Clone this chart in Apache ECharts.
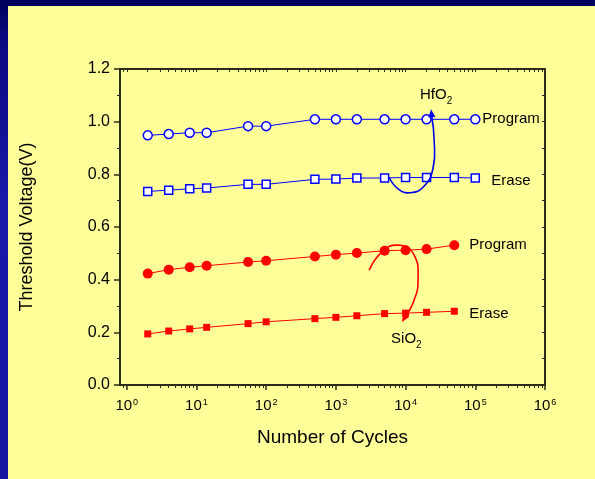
<!DOCTYPE html>
<html lang="en">
<head>
    <meta charset="utf-8">
    <title>Threshold Voltage vs Cycles</title>
    <style>
        html, body { margin: 0; padding: 0; }
        body {
            width: 595px; height: 479px; overflow: hidden; position: relative;
            background: linear-gradient(180deg, #00005c 0px, #0a0a80 40px, #1818a8 200px, #1414a0 479px);
        }
        #main { position: absolute; left: 8px; top: 6px; width: 587px; height: 473px; background: #ffff99; }
    </style>
</head>
<body>
<div id="main"></div>
<script src="https://cdn.jsdelivr.net/npm/echarts@6/dist/echarts.min.js"></script>
<script type="text/javascript">
    var FONT = 'Liberation Sans, Arial, sans-serif';

    // cycles (x) and threshold voltage (y)
    var hfCycles = [2, 4, 8, 14, 55, 100, 500, 1000, 2000, 5000, 10000, 20000, 50000, 100000];
    var hfProgram = [0.948, 0.953, 0.958, 0.958, 0.983, 0.983, 1.009, 1.009, 1.009, 1.009, 1.009, 1.009, 1.009, 1.009];
    var hfErase = [0.735, 0.740, 0.745, 0.748, 0.762, 0.762, 0.781, 0.782, 0.786, 0.786, 0.788, 0.788, 0.788, 0.786];

    var sioCycles = [2, 4, 8, 14, 55, 100, 500, 1000, 2000, 5000, 10000, 20000, 50000];
    var sioProgram = [0.423, 0.438, 0.447, 0.453, 0.467, 0.472, 0.488, 0.495, 0.501, 0.510, 0.512, 0.516, 0.531];
    var sioErase = [0.194, 0.205, 0.213, 0.219, 0.233, 0.240, 0.252, 0.257, 0.263, 0.271, 0.273, 0.276, 0.280];

    // axis ticks
    var majorTicks = [1, 10, 100, 1000, 10000, 100000, 1000000];
    var minorTicks = [0.9];
    majorTicks.slice(0, 6).forEach(function (d) {
        for (var k = 2; k <= 9; k++) minorTicks.push(d * k);
    });

    // curved arrows (data units)
    var hfArrowX = [5800, 7800, 11600, 18400, 24800, 25700, 23200];
    var hfArrowY = [0.789, 0.745, 0.730, 0.755, 0.824, 0.930, 1.047];
    var sioArrowX = [3000, 4750, 7800, 12800, 15100, 12800, 8900];
    var sioArrowY = [0.436, 0.509, 0.531, 0.501, 0.398, 0.311, 0.239];
    var hfLabelAt = [16100, 1.108];
    var sioLabelAt = [6200, 0.180];

    function zip(xs, ys) {
        return xs.map(function (x, i) { return [x, ys[i]]; });
    }

    function lineSeries(name, xs, ys, color, symbol, size, hollow, label, dist, dy) {
        return {
            name: name,
            type: 'line',
            data: zip(xs, ys),
            symbol: symbol,
            symbolSize: size,
            showAllSymbol: true,
            lineStyle: { color: color, width: 1 },
            itemStyle: hollow ? { color: '#fff', borderColor: color, borderWidth: 1.5 } : { color: color, borderWidth: 0 },
            endLabel: {
                show: true, formatter: label, distance: dist, offset: [0, dy],
                color: '#000', fontSize: 15, fontFamily: FONT
            },
            z: 3
        };
    }

    function arrowSeries(xs, ys, color, labelAt, labelText) {
        return {
            type: 'custom',
            silent: true,
            clip: false,
            data: [[xs[0], ys[0]]],
            renderItem: function (params, api) {
                var pts = xs.map(function (x, i) { return api.coord([x, ys[i]]); });
                var n = pts.length, a = pts[n - 2], b = pts[n - 1];
                var ang = Math.atan2(b[1] - a[1], b[0] - a[0]);
                var L = 8, W = 3.5;
                var bx = b[0] - L * Math.cos(ang), by = b[1] - L * Math.sin(ang);
                var head = [b,
                    [bx + W * Math.sin(ang), by - W * Math.cos(ang)],
                    [bx - W * Math.sin(ang), by + W * Math.cos(ang)]];
                var body = pts.slice(0, n - 1).concat([[bx, by]]);
                var lp = api.coord(labelAt);
                return {
                    type: 'group',
                    children: [
                        { type: 'polyline', shape: { points: body, smooth: 0.5 }, style: { stroke: color, lineWidth: 1.6, fill: null } },
                        { type: 'polygon', shape: { points: head }, style: { fill: color } },
                        {
                            type: 'text', x: lp[0], y: lp[1],
                            style: {
                                text: '{n|' + labelText + '}{s|2}',
                                align: 'left', verticalAlign: 'middle',
                                rich: {
                                    n: { fontSize: 15, fontFamily: FONT, fill: '#000', verticalAlign: 'bottom', lineHeight: 18 },
                                    s: { fontSize: 10, fontFamily: FONT, fill: '#000', verticalAlign: 'bottom', lineHeight: 12, padding: [0, 0, -4, 0] }
                                }
                            }
                        }
                    ]
                };
            },
            z: 4
        };
    }

    var xBase = { type: 'log', logBase: 10, min: 0.8, max: 1000000, splitLine: { show: false } };
    var axisColor = '#2b2b1a';

    var myChart = echarts.init(document.getElementById('main'));
    var option = {
        animation: false,
        grid: { left: 112, top: 63, right: 50, bottom: 94 },
        xAxis: [
            Object.assign({}, xBase, {
                position: 'bottom',
                name: 'Number of Cycles', nameLocation: 'middle', nameGap: 43,
                nameTextStyle: { fontSize: 19, fontFamily: FONT, color: '#000' },
                axisLine: { lineStyle: { color: axisColor, width: 2 } },
                axisTick: { inside: false, length: 5, customValues: majorTicks, lineStyle: { color: axisColor, width: 1.5 } },
                axisLabel: {
                    customValues: majorTicks, margin: 13,
                    formatter: function (v) { return '{b|10}{p|' + Math.round(Math.log10(v)) + '}'; },
                    rich: {
                        b: { fontSize: 15, fontFamily: FONT, color: '#000', verticalAlign: 'top', lineHeight: 18 },
                        p: { fontSize: 9, fontFamily: FONT, color: '#000', verticalAlign: 'top', lineHeight: 18, padding: [0, 0, 7, 1] }
                    }
                }
            }),
            Object.assign({}, xBase, {
                position: 'bottom',
                axisLine: { show: false },
                axisTick: { inside: false, length: 3, customValues: minorTicks, lineStyle: { color: axisColor, width: 1 } },
                axisLabel: { show: false }
            }),
            Object.assign({}, xBase, {
                position: 'top',
                axisLine: { lineStyle: { color: axisColor, width: 2 } },
                axisTick: { inside: true, length: 3, customValues: majorTicks.concat(minorTicks), lineStyle: { color: axisColor, width: 1 } },
                axisLabel: { show: false }
            })
        ],
        yAxis: [
            {
                type: 'value', position: 'left', min: 0, max: 1.2, interval: 0.2,
                name: 'Threshold Voltage(V)', nameLocation: 'middle', nameGap: 84, nameRotate: 90,
                nameTextStyle: { fontSize: 18, fontFamily: FONT, color: '#000' },
                splitLine: { show: false },
                axisLine: { show: true, lineStyle: { color: axisColor, width: 2 } },
                axisTick: { show: true, inside: false, length: 6, lineStyle: { color: axisColor, width: 1.5 } },
                minorTick: { show: true, splitNumber: 2, length: 3, lineStyle: { color: axisColor, width: 1 } },
                axisLabel: {
                    margin: 10, fontSize: 16, fontFamily: FONT, color: '#000',
                    formatter: function (v) { return v.toFixed(1); }
                }
            },
            {
                type: 'value', position: 'right', min: 0, max: 1.2, interval: 0.2,
                splitLine: { show: false },
                axisLine: { show: true, lineStyle: { color: axisColor, width: 2 } },
                axisTick: { show: true, inside: true, length: 3, lineStyle: { color: axisColor, width: 1 } },
                minorTick: { show: true, splitNumber: 2, length: 3, lineStyle: { color: axisColor, width: 1 } },
                axisLabel: { show: false }
            }
        ],
        series: [
            lineSeries('HfO2 Program', hfCycles, hfProgram, '#0000ff', 'circle', 9, true, 'Program', 7, 0),
            lineSeries('HfO2 Erase', hfCycles, hfErase, '#0000ff', 'rect', 8, true, 'Erase', 16, 3),
            lineSeries('SiO2 Program', sioCycles, sioProgram, '#ff0000', 'circle', 10, false, 'Program', 15, 0),
            lineSeries('SiO2 Erase', sioCycles, sioErase, '#ff0000', 'rect', 7, false, 'Erase', 15, 3),
            arrowSeries(hfArrowX, hfArrowY, '#0000ee', hfLabelAt, 'HfO'),
            arrowSeries(sioArrowX, sioArrowY, '#ff0000', sioLabelAt, 'SiO')
        ]
    };
    myChart.setOption(option);
</script>
</body>
</html>
